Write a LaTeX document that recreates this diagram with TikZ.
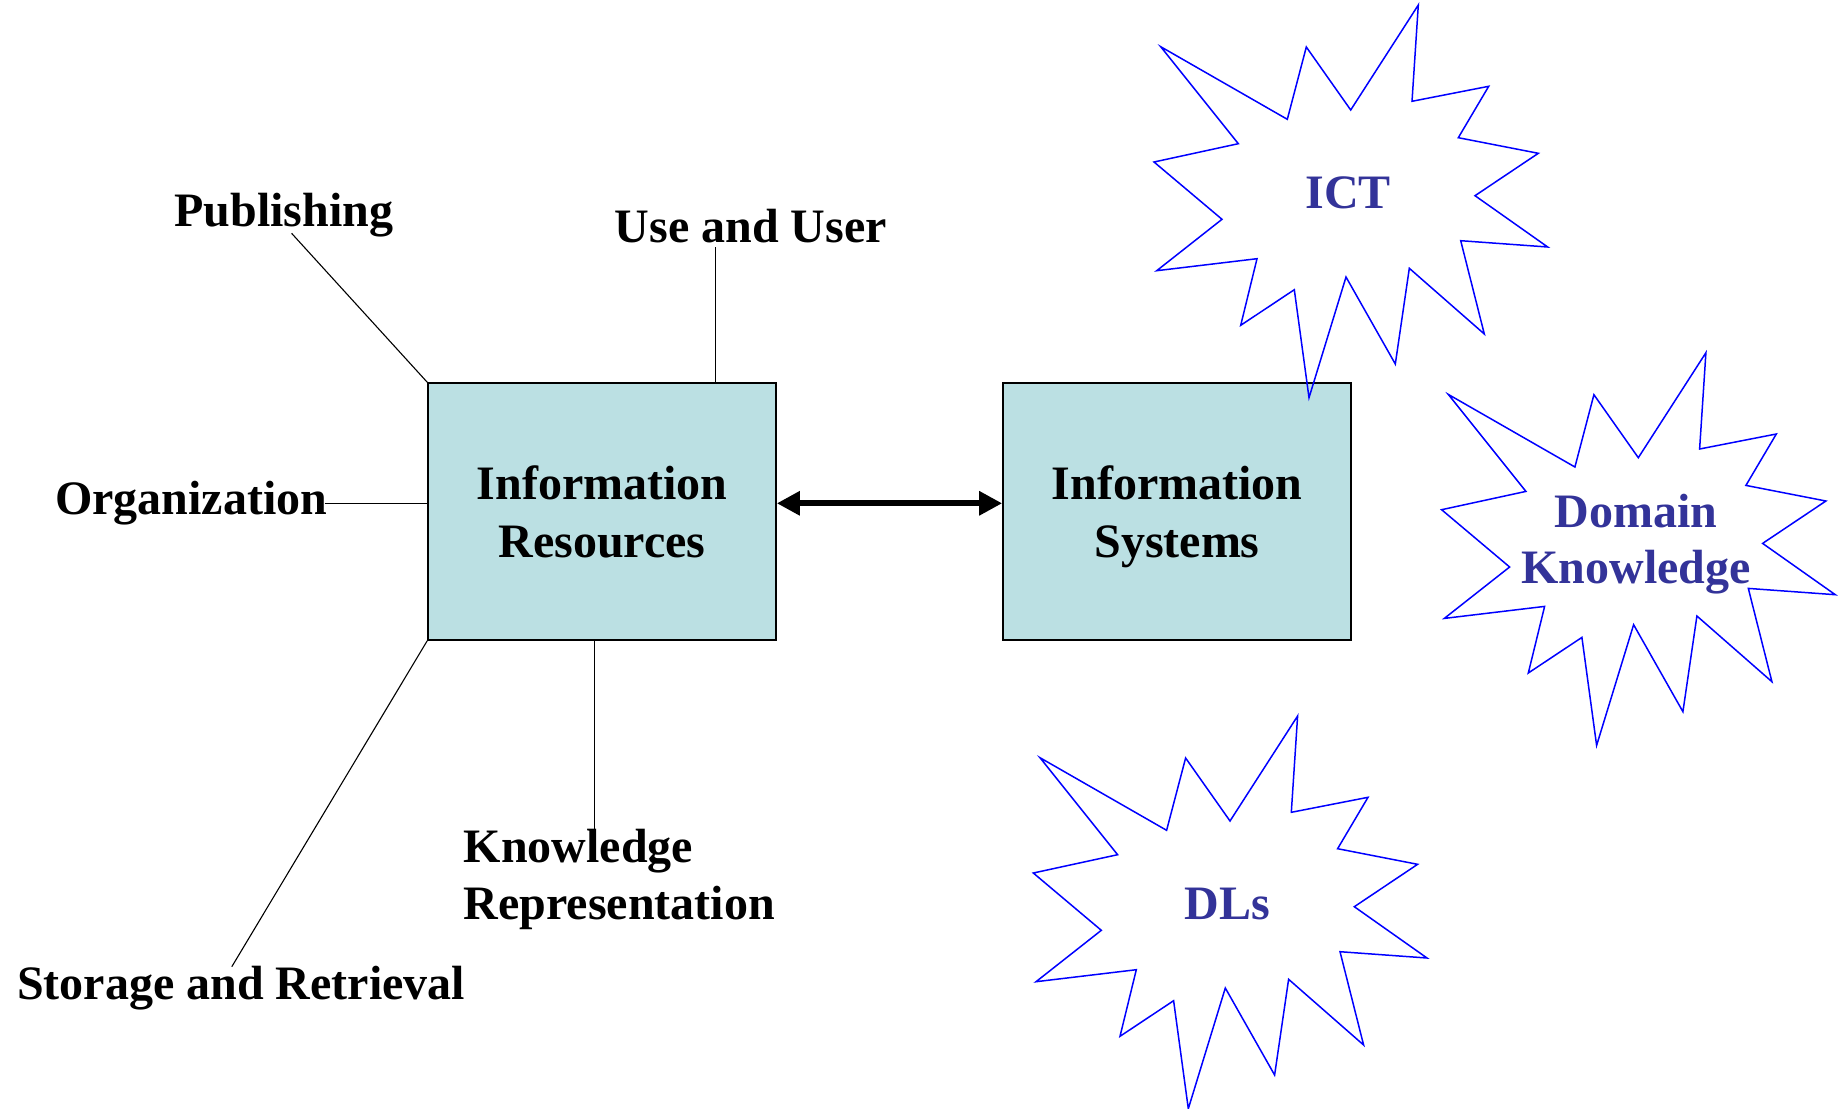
\documentclass[tikz,border=0pt]{standalone}
\usepackage{fontspec}
\setmainfont{Liberation Serif}
\usetikzlibrary{arrows.meta}
\definecolor{boxfill}{HTML}{BBE0E3}
\definecolor{startext}{HTML}{333399}
\definecolor{burstblue}{HTML}{0000FF}
\newcommand{\twolinec}[2]{\begin{tabular}[t]{@{}c@{}}#1\\#2\end{tabular}}
\newcommand{\twolinel}[2]{\begin{tabular}[t]{@{}l@{}}#1\\#2\end{tabular}}
\begin{document}
\begin{tikzpicture}[x=1pt,y=-1pt,
  infobox/.style={draw=black, line width=1.6pt, fill=boxfill, minimum width=348pt, minimum height=257pt, inner sep=0pt},
  lbl/.style={inner sep=0pt, font=\fontsize{48}{58.4}\selectfont\bfseries},
  lbltight/.style={inner sep=0pt, font=\fontsize{48}{56.6}\selectfont\bfseries},
  starlbl/.style={lbltight, text=startext},
  connector/.style={draw=black, line width=1.1pt},
  burst/.style={draw=burstblue, line width=1.5pt},
  dblarrow/.style={line width=6pt, {Triangle[length=23pt,width=23pt]}-{Triangle[length=23pt,width=23pt]}}
]
\useasboundingbox (0,0) rectangle (1846,1108);

% boxes
\node[infobox] (ir) at (602,511.5) {};
\node[infobox] (is) at (1177,511.5) {};
\node[lbl, anchor=base] (irt) at (602,499) {\twolinec{Information}{Resources}};
\node[lbl, anchor=base] (ist) at (1177,499) {\twolinec{Information}{Systems}};

% labels
\node[lbl, anchor=base] (pub) at (284,226.5) {Publishing};
\node[lbl, anchor=base west] (use) at (614.5,242) {Use and User};
\node[lbl, anchor=base west] (org) at (55,514) {Organization};
\node[lbl, anchor=base west] (sto) at (17,999) {Storage and Retrieval};
\node[lbltight, anchor=base west] (kno) at (463.5,862.5) {\twolinel{Knowledge}{Representation}};

% free ends of connectors
\coordinate (pubend) at (291.6,233.3);
\coordinate (useend) at (715.3,247.3);
\coordinate (orgend) at (324.5,503.3);
\coordinate (stoend) at (231.8,966.7);
\coordinate (knoend) at (594.4,832);

% connectors
\draw[connector] (pubend) -- (ir.north west);
\draw[connector] (useend) -- (useend |- ir.north);
\draw[connector] (orgend) -- (orgend -| ir.west);
\draw[connector] (stoend) -- (ir.south west);
\draw[connector] (knoend) -- (knoend |- ir.south);
\draw[dblarrow] (orgend -| ir.east) -- (orgend -| is.west);

% bursts
\foreach \sx/\sy in {0/0, 287.6/347.7, -120.7/711} {
  \draw[burst, shift={(\sx,\sy)}]
    (1160.7,46.7) -- (1287.3,119.3) -- (1306.3,47) -- (1350.7,110) --
    (1418.3,5) -- (1412,101.3) -- (1488.7,86.3) -- (1458.3,137.7) --
    (1538.3,153.3) -- (1475,195.7) -- (1547.7,247) -- (1460.7,240.7) --
    (1484.3,334) -- (1409.3,268.3) -- (1395.3,364) -- (1346,277) --
    (1309,397.7) -- (1294.3,289.7) -- (1240.7,325.3) -- (1257,258.7) --
    (1156.7,270.7) -- (1222,219.3) -- (1154,162) -- (1238.3,143.7) -- cycle;
}
\node[starlbl, anchor=base] (ict) at (1348.3,208.5) {ICT};
\node[starlbl, anchor=base] (dom) at (1636,527.2) {\twolinec{Domain}{Knowledge}};
\node[starlbl, anchor=base] (dls) at (1227.6,919.5) {DLs};
\end{tikzpicture}
\end{document}
